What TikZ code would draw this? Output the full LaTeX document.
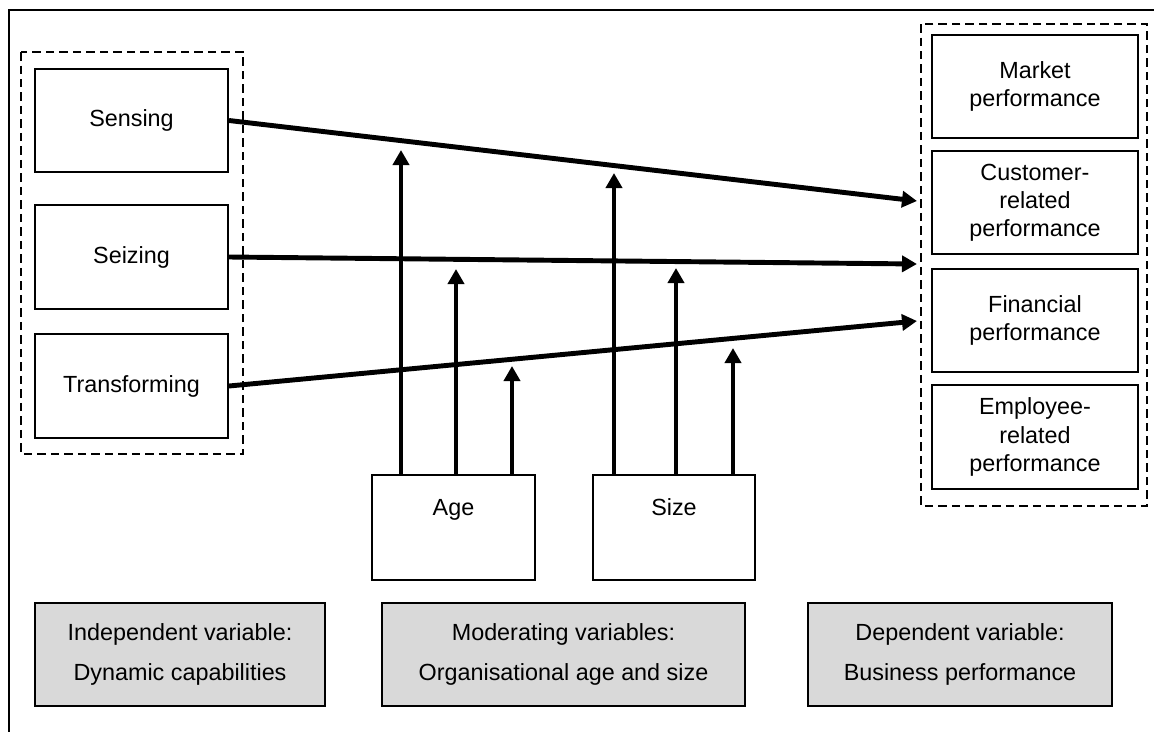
\documentclass[tikz,border=0pt]{standalone}
\usepackage{fontspec}
\setmainfont{Liberation Sans}
\usepackage{tikz}
\usetikzlibrary{arrows.meta,calc}
\tikzset{>={Triangle[length=0.3cm,width=0.32cm]}}
\tikzset{
  box/.style={draw,line width=1.2pt,inner sep=2pt,align=center,
    font=\fontsize{13.3pt}{16pt}\selectfont},
  capbox/.style={box,fill=black!15,minimum height=2.06cm},
  group/.style={draw,line width=1.2pt,dash pattern=on 0.17cm off 0.1cm},
  conn/.style={line width=2.8pt,->}
}

\begin{document}
\begin{tikzpicture}[x=0.02cm,y=-0.02cm]
  \useasboundingbox (0,0) rectangle (1154,731);
  % frame
  \draw[line width=1.2pt] (1170,10) -- (9,10) -- (9,745);

  % independent variables
  \draw[group] (21,52) rectangle (243,454);
  \node[box,minimum width=3.86cm,minimum height=2.06cm] (sensing) at (131.5,120.5) {Sensing};
  \node[box,minimum width=3.86cm,minimum height=2.08cm] (seizing) at (131.5,257) {Seizing};
  \node[box,minimum width=3.86cm,minimum height=2.08cm] (transforming) at (131.5,386) {Transforming};

  % dependent variables
  \draw[group] (921,24) rectangle (1147,506);
  \node[box,minimum width=4.12cm,minimum height=2.06cm] (market) at (1035,86.5) {Market\\performance};
  \node[box,minimum width=4.12cm,minimum height=2.06cm] (customer) at (1035,202.5) {Customer-\\related\\performance};
  \node[box,minimum width=4.12cm,minimum height=2.06cm] (financial) at (1035,320.5) {Financial\\performance};
  \node[box,minimum width=4.12cm,minimum height=2.08cm] (employee) at (1035,437) {Employee-\\related\\performance};

  % moderators
  \node[box,minimum width=3.26cm,minimum height=2.1cm,text height=0.34cm,text depth=0.82cm] (age) at (453.5,527.5) {Age};
  \node[box,minimum width=3.24cm,minimum height=2.1cm,text height=0.34cm,text depth=0.82cm] (size) at (674,527.5) {Size};

  % captions
  \node[capbox,minimum width=5.8cm] (indep) at (180,654.5) {Independent variable:\\[7pt]Dynamic capabilities};
  \node[capbox,minimum width=7.26cm] (moder) at (563.5,654.5) {Moderating variables:\\[7pt]Organisational age and size};
  \node[capbox,minimum width=6.08cm] (dep) at (960,654.5) {Dependent variable:\\[7pt]Business performance};

  % main effects
  \coordinate (e1) at (917,201);
  \coordinate (e2) at (917,264);
  \coordinate (e3) at (917,321);
  \draw[conn] (sensing.east) -- (e1);
  \draw[conn] (seizing.east) -- (e2);
  \draw[conn] (transforming.east) -- (e3);

  % moderating effects
  \coordinate (a1) at (401,150);
  \coordinate (a2) at (456,269);
  \coordinate (a3) at (512,366);
  \coordinate (s1) at (614,173);
  \coordinate (s2) at (676,268);
  \coordinate (s3) at (733,348);
  \foreach \t in {a1,a2,a3}
    \draw[conn] (\t |- age.north) -- (\t);
  \foreach \t in {s1,s2,s3}
    \draw[conn] (\t |- size.north) -- (\t);
\end{tikzpicture}
\end{document}
